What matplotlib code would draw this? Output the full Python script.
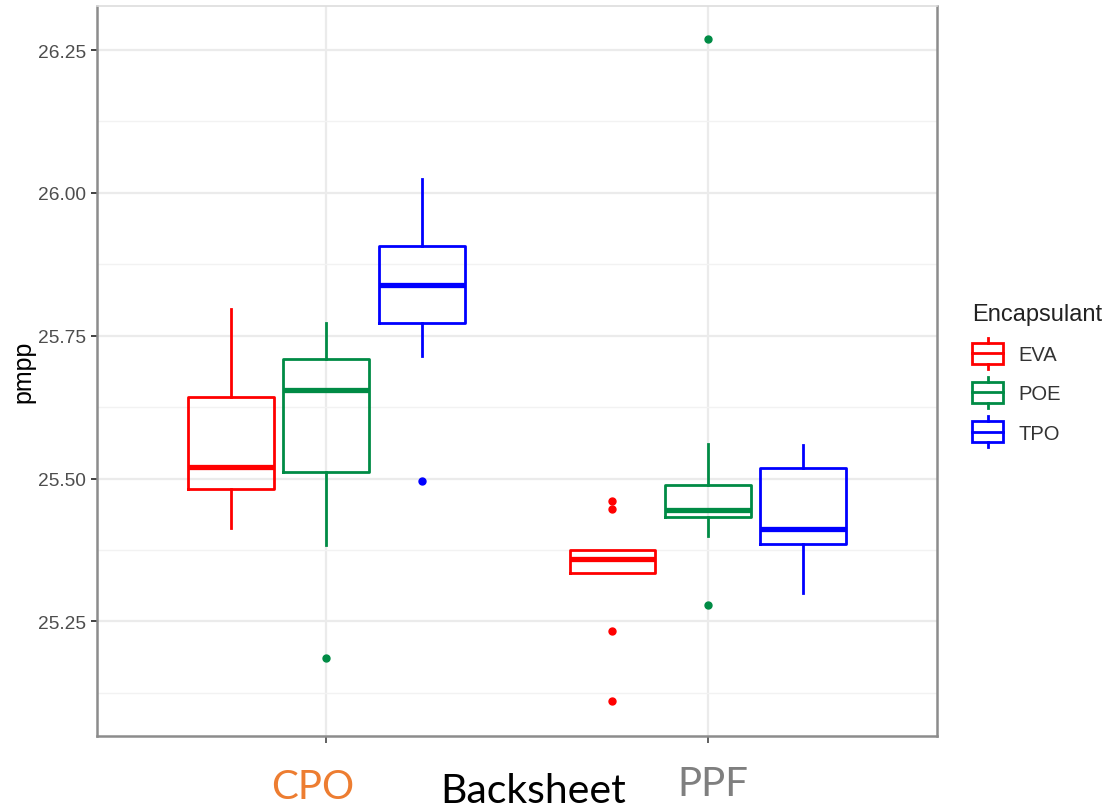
import matplotlib
matplotlib.use("Agg")
import matplotlib.pyplot as plt
from matplotlib.legend_handler import HandlerBase
from matplotlib.patches import Rectangle
from matplotlib.lines import Line2D

# ---------------- data ----------------
groups = ["CPO", "PPF"]
encapsulants = ["EVA", "POE", "TPO"]
colors = ["#FF0000", "#008B45", "#0000FF"]

# per group (CPO, PPF) -> per encapsulant (EVA, POE, TPO)
whislo = [[25.414, 25.384, 25.715], [25.335, 25.400, 25.300]]
q1     = [[25.481, 25.511, 25.772], [25.335, 25.433, 25.386]]
med    = [[25.520, 25.655, 25.839], [25.359, 25.445, 25.412]]
q3     = [[25.643, 25.709, 25.907], [25.375, 25.488, 25.518]]
whishi = [[25.797, 25.773, 26.024], [25.375, 25.560, 25.558]]
fliers = [[[], [25.186], [25.496]],
          [[25.461, 25.447, 25.233, 25.110], [25.279, 26.269], []]]

yticks = [25.25, 25.50, 25.75, 26.00, 26.25]
ytick_labels = ["25.25", "25.50", "25.75", "26.00", "26.25"]
yminor = [25.125, 25.375, 25.625, 25.875, 26.125]

W, H = 1114, 812
fig = plt.figure(figsize=(W / 100, H / 100), dpi=100)
ax = fig.add_axes([97 / W, 1 - 737 / H, 840 / W, 730 / H])

offsets = [-0.25, 0.0, 0.25]
box_w = 0.225
lw = 2.0
for gi, g in enumerate(groups):
    for ei, enc in enumerate(encapsulants):
        st = dict(med=med[gi][ei], q1=q1[gi][ei], q3=q3[gi][ei],
                  whislo=whislo[gi][ei], whishi=whishi[gi][ei],
                  fliers=fliers[gi][ei], label=enc)
        c = colors[ei]
        ax.bxp([st], positions=[gi + 1 + offsets[ei]], widths=box_w,
               showcaps=False, manage_ticks=False,
               boxprops=dict(color=c, lw=lw),
               whiskerprops=dict(color=c, lw=lw),
               medianprops=dict(color=c, lw=3.8, solid_capstyle='butt'),
               flierprops=dict(marker='o', markerfacecolor=c,
                               markeredgecolor=c, markersize=5,
                               linestyle='none'))

ax.set_xlim(0.4, 2.6)
ax.set_ylim(25.0496, 26.327)
ax.set_yticks(yticks)
ax.set_yticklabels(ytick_labels)
ax.set_yticks(yminor, minor=True)
ax.set_xticks([1, 2])
ax.set_xticklabels(["", ""])

ax.grid(True, which='major', color='#EBEBEB', lw=1.6, zorder=0)
ax.grid(True, which='minor', axis='y', color='#F2F2F2', lw=1.0, zorder=0)
ax.set_axisbelow(True)

ax.tick_params(axis='y', which='major', length=4, width=1.3, color='#333333',
               labelsize=13.8, labelcolor='#4D4D4D', pad=4,
               labelfontfamily='Liberation Sans')
ax.tick_params(axis='y', which='minor', length=0)
ax.tick_params(axis='x', which='major', length=5, width=1.3, color='#555555')

for s in ['left', 'bottom', 'right']:
    ax.spines[s].set_color('#8C8C8C')
    ax.spines[s].set_linewidth(1.8)
ax.spines['top'].set_color('#DDDDDD')
ax.spines['top'].set_linewidth(1.2)

ax.set_ylabel("pmpp", fontsize=18, family='Liberation Sans', color='black',
              labelpad=2)

# legend with box-style keys
class BoxHandler(HandlerBase):
    def create_artists(self, legend, orig_handle, xdescent, ydescent,
                       width, height, fontsize, trans):
        c = orig_handle.get_color()
        x0 = -xdescent
        y0 = -ydescent
        bh = height * 1.2
        by = y0 + (height - bh) / 2
        rect = Rectangle((x0, by), width, bh, fill=False, ec=c, lw=2.0,
                         transform=trans)
        mid = Line2D([x0, x0 + width], [by + bh / 2] * 2, color=c, lw=2.0,
                     transform=trans)
        wt = Line2D([x0 + width / 2] * 2, [by + bh, by + bh + height * 0.3],
                    color=c, lw=2.0, transform=trans)
        wb = Line2D([x0 + width / 2] * 2, [by, by - height * 0.3],
                    color=c, lw=2.0, transform=trans)
        return [rect, mid, wt, wb]

handles = [Line2D([], [], color=c) for c in colors]
leg = fig.legend(handles, encapsulants, loc='upper left',
                 bbox_to_anchor=(958 / W, 1 - 290 / H),
                 frameon=False, title="Encapsulant",
                 handler_map={Line2D: BoxHandler()},
                 prop=dict(family='Liberation Sans', size=14.5),
                 title_fontproperties=dict(family='Liberation Sans', size=17),
                 handlelength=1.55, handleheight=0.95, handletextpad=0.75,
                 labelspacing=0.97, alignment='left', borderpad=0.2)
for t in leg.get_texts():
    t.set_color('#333333')
leg.get_title().set_color('#222222')

# bottom annotations (category names and axis title)
fig.text(313 / W, 1 - 799 / H, "CPO", color='#ED7D31', fontsize=29,
         family='Lato', ha='center', va='baseline')
fig.text(533 / W, 1 - 803 / H, "Backsheet", color='black', fontsize=29.5,
         family='Lato', ha='center', va='baseline')
fig.text(713 / W, 1 - 796 / H, "PPF", color='#7F7F7F', fontsize=29,
         family='Lato', ha='center', va='baseline')

fig.savefig("out.png", dpi=100)
